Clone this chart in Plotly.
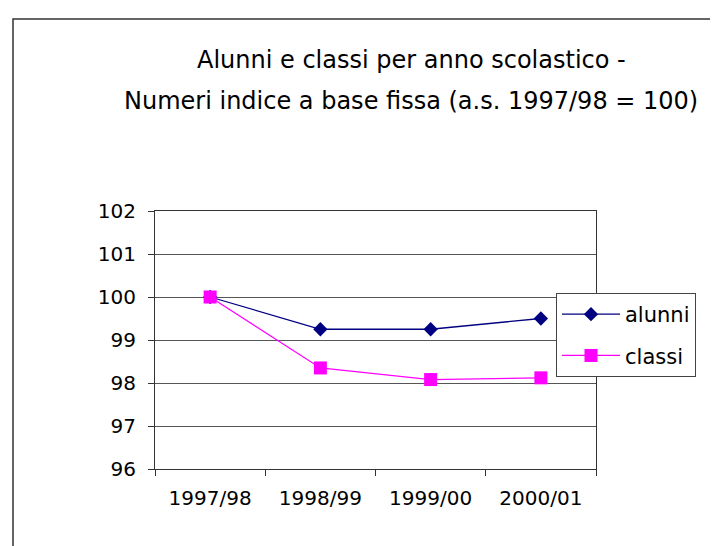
import plotly.graph_objects as go

categories = ["1997/98", "1998/99", "1999/00", "2000/01"]
alunni = [100.0, 99.25, 99.25, 99.5]
classi = [100.0, 98.35, 98.08, 98.12]
y_ticks = [96, 97, 98, 99, 100, 101, 102]

title_line1 = "Alunni e classi per anno scolastico -"
title_line2 = "Numeri indice a base fissa (a.s. 1997/98 = 100)"

TICK_FONT = dict(family="DejaVu Sans", size=20, color="black")
TITLE_FONT = dict(family="DejaVu Sans", size=24, color="black")

fig = go.Figure()
fig.add_trace(go.Scatter(
    x=categories, y=alunni, name="alunni", mode="lines+markers",
    line=dict(color="#000080", width=1.3),
    marker=dict(symbol="diamond", size=11, color="#000080"),
    legendgroup="a",
))
fig.add_trace(go.Scatter(
    x=categories, y=classi, name="classi", mode="lines+markers",
    line=dict(color="#FF00FF", width=1.3),
    marker=dict(symbol="square", size=13, color="#FF00FF"),
    legendgroup="b",
))

W, H = 718, 546
L, R, T, B = 147, 588, 203, 461
pw, ph = R - L, B - T

def px_x(p):
    return (p - L) / pw

def px_y(p):
    return (B - p) / ph

fig.update_layout(
    width=W, height=H,
    margin=dict(l=L, r=W - R, t=T, b=H - B, pad=0),
    paper_bgcolor="white", plot_bgcolor="white",
    showlegend=True,
    legend=dict(
        x=px_x(548), y=px_y(285), xanchor="left", yanchor="top",
        bgcolor="white", bordercolor="#444444", borderwidth=1,
        font=dict(family="DejaVu Sans", size=21, color="black"),
        traceorder="grouped", tracegroupgap=11, itemwidth=58,
    ),
    xaxis=dict(
        type="category", range=[-0.5, 3.5],
        showline=True, linecolor="#333333", linewidth=1, mirror=True,
        showgrid=False, ticks="outside", tickson="boundaries",
        ticklen=6, tickcolor="#333333", tickfont=TICK_FONT,
        ticklabelstandoff=11,
    ),
    yaxis=dict(
        range=[96, 102], tickvals=y_ticks,
        showline=True, linecolor="#333333", linewidth=1, mirror=True,
        showgrid=True, gridcolor="#555555", gridwidth=1,
        ticks="outside", ticklen=6, tickcolor="#333333",
        tickfont=TICK_FONT, zeroline=False,
        ticklabelstandoff=8,
    ),
    annotations=[
        dict(text=title_line1, xref="paper", yref="paper",
             x=px_x(403), y=px_y(52), xanchor="center", yanchor="middle",
             showarrow=False, font=TITLE_FONT),
        dict(text=title_line2, xref="paper", yref="paper",
             x=px_x(403), y=px_y(93), xanchor="center", yanchor="middle",
             showarrow=False, font=TITLE_FONT),
    ],
    shapes=[
        dict(type="rect", xref="paper", yref="paper",
             x0=px_x(5), x1=px_x(760), y0=px_y(11), y1=px_y(600),
             line=dict(color="#333333", width=1.5), layer="below"),
    ],
)

fig.write_html("out.html")
